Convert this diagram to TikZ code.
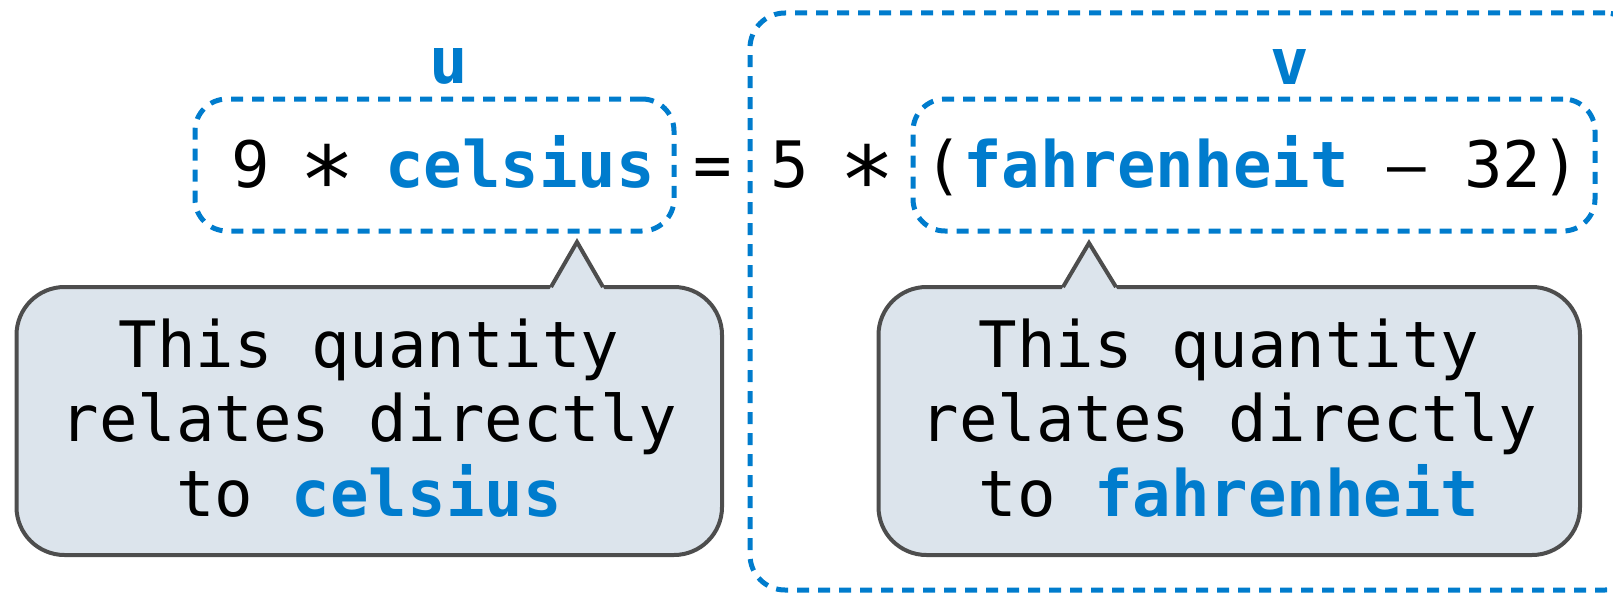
\documentclass[tikz,border=0pt]{standalone}
\usepackage{fontspec}
\usepackage{graphicx}
\newfontfamily\mono{DejaVu Sans Mono}
\definecolor{hl}{RGB}{0,124,205}
\definecolor{calloutfill}{RGB}{220,228,236}
\definecolor{calloutedge}{RGB}{77,77,77}
\newcommand\hlw[1]{\textcolor{hl}{\bfseries #1}}
\newcommand\opstar{\makebox[0.6021em]{\raisebox{-7.8pt}{\scalebox{1.45}{∗}}}}
\begin{document}
\begin{tikzpicture}[x=1pt,y=-1pt,
  txt/.style={font=\mono\fontsize{64}{74.5}\selectfont, inner sep=0pt, text=black},
  lbl/.style={font=\mono\bfseries\fontsize{64}{74.5}\selectfont, inner sep=0pt, text=hl},
  dbox/.style={draw=hl, line width=5pt, dash pattern=on 12pt off 9pt, rounded corners=32pt, inner sep=0pt},
  bubble/.style={draw=calloutedge, fill=calloutfill, line width=4pt, rounded corners=48pt, inner sep=0pt},
  pointerfill/.style={fill=calloutfill},
  pointeredge/.style={draw=calloutedge, line width=4pt, line join=miter},
]
\useasboundingbox (0,0) rectangle (1613,594);
% big dashed box (runs off the right edge)
\begin{scope}
\clip (0,0) rectangle (1613,594);
\node[dbox, rounded corners=35pt, minimum width=890pt, minimum height=577pt] (vbig) at (1195,301.5) {};
\end{scope}
% inner dashed boxes
\node[dbox, minimum width=479pt, minimum height=132pt] (ubox) at (434.5,165) {};
\node[dbox, minimum width=682pt, minimum height=132pt] (vbox) at (1254,165) {};
% equation
\node[txt, anchor=base west] (eq) at (231,187) {9 \opstar{} \hlw{celsius} = 5 \opstar{} (\hlw{fahrenheit} – 32)};
% labels
\node[lbl, anchor=base] (ulbl) at (449,83) {u};
\node[lbl, anchor=base] (vlbl) at (1289.5,84) {v};
% left callout
\node[bubble, minimum width=705.5pt, minimum height=268pt] (lcall) at (369.25,421) {};
\coordinate (ltip) at (577,242);
\fill[pointerfill] (545.8,296) -- (ltip) -- (608.2,296) -- cycle;
\draw[pointeredge] (551,287) -- (ltip) -- (603,287);
\node[txt, align=center] (ltext) at (369,418) {This quantity\\relates directly\\to \hlw{celsius}};
% right callout
\node[bubble, minimum width=701.5pt, minimum height=268pt] (rcall) at (1229.25,421) {};
\coordinate (rtip) at (1089,243);
\fill[pointerfill] (1057.8,296) -- (rtip) -- (1121.2,296) -- cycle;
\draw[pointeredge] (1063,287) -- (rtip) -- (1116,287);
\node[txt, align=center] (rtext) at (1229,418) {This quantity\\relates directly\\to \hlw{fahrenheit}};
\end{tikzpicture}
\end{document}
